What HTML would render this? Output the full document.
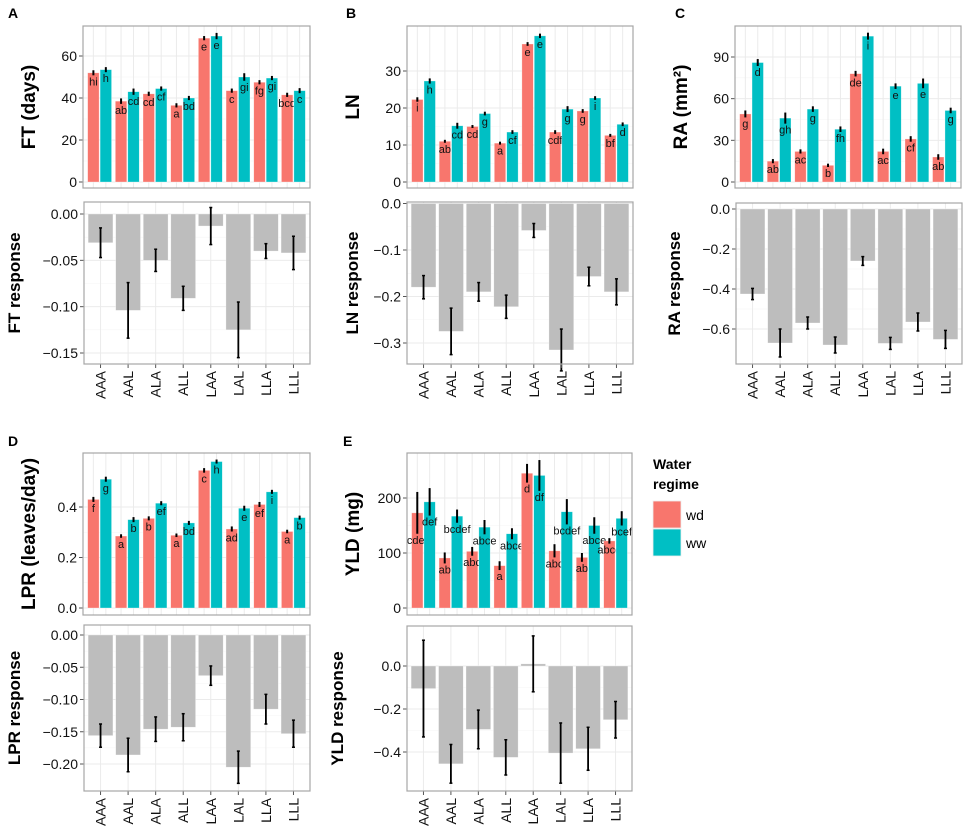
<!DOCTYPE html>
<html><head><meta charset="utf-8">
<style>
html,body{margin:0;padding:0;background:#fff;}
svg{display:block;font-family:"Liberation Sans",Arial,sans-serif;}
</style></head>
<body>
<svg id="chart" width="964" height="837" viewBox="0 0 964 837"></svg>
<script>
const cats = ["AAA","AAL","ALA","ALL","LAA","LAL","LLA","LLL"];
// Panel A: FT (days)
const aWd = [52,38.5,42,36.5,68.5,43.5,47.5,41.5];
const aWw = [53.5,43,44.5,40,69.5,50,49.5,43.5];
const aWdErr = [1.2,1.3,1,1,1,1,1,1];
const aWwErr = [1.2,1.5,1,1,1.5,1.8,1,1.2];
const aLetters = ["hi","h","ab","cd","cd","cf","a","bd","e","e","c","gi","fg","gi","bcd","c"];
const aResp = [-0.031,-0.104,-0.05,-0.091,-0.013,-0.125,-0.04,-0.042];
const aRespErr = [0.016,0.03,0.012,0.013,0.02,0.03,0.008,0.018];
// Panel B: LN
const bWd = [22.3,11,15,10.5,37.3,13.5,19.2,12.6];
const bWw = [27.3,15.2,18.5,13.5,39.5,19.7,22.7,15.6];
const bWdErr = [0.6,0.4,0.4,0.4,0.5,0.5,0.5,0.4];
const bWwErr = [0.7,0.8,0.5,0.5,0.6,0.8,0.5,0.5];
const bLetters = ["i","h","ab","cd","cd","g","a","cf","e","e","cdf","g","g","i","bf","d"];
const bResp = [-0.18,-0.275,-0.19,-0.222,-0.058,-0.315,-0.157,-0.19];
const bRespErr = [0.025,0.05,0.02,0.025,0.015,0.045,0.02,0.028];
// Panel C: RA
const cWd = [49,15,22,12,78,22,31,18];
const cWw = [86,46,52.5,38,105,69,71,51.5];
const cWdErr = [2.5,1.5,1.5,1.2,2,2,2,2];
const cWwErr = [2.5,4,2,2,2.5,2,3.5,2];
const cLetters = ["g","d","ab","gh","ac","g","b","fh","de","i","ac","e","cf","e","ab","g"];
const cResp = [-0.425,-0.67,-0.57,-0.68,-0.26,-0.672,-0.565,-0.652];
const cRespErr = [0.028,0.07,0.03,0.04,0.022,0.03,0.045,0.045];
// Panel D: LPR
const dWd = [0.43,0.285,0.355,0.288,0.545,0.313,0.41,0.303];
const dWw = [0.51,0.35,0.415,0.337,0.58,0.395,0.46,0.358];
const dWdErr = [0.01,0.007,0.008,0.007,0.009,0.01,0.01,0.007];
const dWwErr = [0.01,0.01,0.008,0.008,0.008,0.01,0.008,0.008];
const dLetters = ["f","g","a","b","b","ef","a","bd","c","h","ad","e","ef","i","a","b"];
const dResp = [-0.156,-0.186,-0.146,-0.143,-0.063,-0.205,-0.115,-0.153];
const dRespErr = [0.018,0.026,0.019,0.021,0.015,0.025,0.023,0.021];
// Panel E: YLD
const eWd = [173,91,103,77,245,104,92,122];
const eWw = [193,167,147,135,241,175,150,163];
const eWdErr = [38,10,8,8,17,12,8,5];
const eWwErr = [25,12,13,10,28,23,15,13];
const eLetters = ["cdef","def","ab","bcdef","abc","abce","a","abce","d","df","abc","bcdef","ab","abce","abce","bcef"];
const eResp = [-0.105,-0.455,-0.295,-0.425,0.01,-0.405,-0.385,-0.25];
const eRespErr = [0.225,0.09,0.09,0.082,0.13,0.14,0.1,0.085];
// tick values
const aTopTicks=[0,20,40,60], bTopTicks=[0,10,20,30], cTopTicks=[0,30,60,90], dTopTicks=[0,0.2,0.4], eTopTicks=[0,100,200];
const aBotTicks=[0,-0.05,-0.1,-0.15], bBotTicks=[0,-0.1,-0.2,-0.3], cBotTicks=[0,-0.2,-0.4,-0.6], dBotTicks=[0,-0.05,-0.1,-0.15,-0.2], eBotTicks=[0,-0.2,-0.4];

const NS="http://www.w3.org/2000/svg";
const svg=document.getElementById('chart');
function mk(tag,attrs,parent,text){const e=document.createElementNS(NS,tag);for(const k in attrs)e.setAttribute(k,attrs[k]);if(text!==undefined)e.textContent=text;(parent||svg).appendChild(e);return e;}
const WD="#F8766D", WW="#00BFC4";
function fmtTick(v,dec){let s=Math.abs(v).toFixed(dec);return (v<0?"\u2212":"")+s;}

function panelFrame(g,x0,x1,y0,y1,yScale,ticks,dec){
  for(let i=0;i<ticks.length-1;i++){
    const ym=yScale((ticks[i]+ticks[i+1])/2);
    const l=mk('line',{x1:x0,x2:x1,y1:ym,y2:ym,stroke:'#f5f5f5','stroke-width':0.6},g);
    
    
  }
  ticks.forEach(t=>{
    const y=yScale(t);
    const l=mk('line',{x1:x0,x2:x1,y1:y,y2:y,stroke:'#ebebeb','stroke-width':1},g);
    
    
    const tk=mk('line',{x1:x0-4,x2:x0,y1:y,y2:y,stroke:'#555','stroke-width':1},g);
    
    
    const tl=mk('text',{x:x0-6,y:y+5,'text-anchor':'end','font-size':14,fill:'#111'},g,fmtTick(t,dec));
    
    
  });
}
function border(g,x0,x1,y0,y1){
  const r=mk('rect',{x:x0,y:y0,width:x1-x0,height:y1-y0,fill:'none',stroke:'#a6a6a6','stroke-width':1.2},g);
  
  
}

function topPanel(id,x0,x1,y0,y1,zeroY,unitPx,wd,ww,wdErr,wwErr,letters,ticks,dec,title){
  const g=mk('g',{});
  
  
  const yS=v=>zeroY-v*unitPx;
  const unit=(x1-x0)/8.2;
  const cx=i=>x0+(i+0.6)*unit;
  const bw=unit*0.45;
  panelFrame(g,x0,x1,y0,y1,yS,ticks,dec);
  for(let i=0;i<8;i++){[cx(i)-bw/2,cx(i)+bw/2].forEach(x=>{
    const l=mk('line',{x1:x,x2:x,y1:y0,y2:y1,stroke:'#ebebeb','stroke-width':1},g);
    
    });}
  for(let i=0;i<8;i++){
    [[wd,wdErr,WD,-1,'wd'],[ww,wwErr,WW,0,'ww']].forEach(([vals,errs,col,off,nm],k)=>{
      const v=vals[i], e=errs[i];
      const bx=cx(i)+off*bw;
      const r=mk('rect',{x:bx+0.5,y:yS(v),width:bw-1,height:yS(0)-yS(v),fill:col,stroke:'rgba(255,255,255,0.5)','stroke-width':0.6},g);
      
      
      const el=mk('line',{x1:bx+bw/2,x2:bx+bw/2,y1:yS(v+e),y2:yS(v-e),stroke:'#000','stroke-width':2},g);
      
      
      const t=mk('text',{x:bx+bw/2,y:yS(v-e)+10,'text-anchor':'middle','font-size':11,fill:'#111'},g,letters[i*2+k]);
      
      
    });
  }
  border(g,x0,x1,y0,y1);
  const my=(y0+y1)/2;
  const tt=mk('text',{x:0,y:0,transform:`translate(${x0-48},${my}) rotate(-90)`,'text-anchor':'middle','font-size':19,'font-weight':'bold',fill:'#000'},g,title);
  
  
}

function botPanel(id,x0,x1,y0,y1,zeroY,unitPx,resp,err,ticks,dec,title,titleX){
  const g=mk('g',{});
  
  
  const yS=v=>zeroY-v*unitPx;
  const unit=(x1-x0)/8.2;
  const cx=i=>x0+(i+0.6)*unit;
  const bw=unit*0.9;
  panelFrame(g,x0,x1,y0,y1,yS,ticks,dec);
  for(let i=0;i<8;i++){
    const l=mk('line',{x1:cx(i),x2:cx(i),y1:y0,y2:y1,stroke:'#ebebeb','stroke-width':1},g);
    
    
  }
  for(let i=0;i<8;i++){
    const v=resp[i], e=err[i];
    const top=Math.min(yS(v),yS(0)), h=Math.max(Math.abs(yS(v)-yS(0)),1.5);
    const r=mk('rect',{x:cx(i)-bw/2,y:top,width:bw,height:h,fill:'#bdbdbd',stroke:'rgba(255,255,255,0.5)','stroke-width':0.6},g);
    
    
    const el=mk('line',{x1:cx(i),x2:cx(i),y1:yS(v+e),y2:yS(v-e),stroke:'#000','stroke-width':1.8},g);
    
    
    [v+e,v-e].forEach(c=>{const cap=mk('line',{x1:cx(i)-1.5,x2:cx(i)+1.5,y1:yS(c),y2:yS(c),stroke:'#000','stroke-width':1.5},g);
      
      });
    const tk=mk('line',{x1:cx(i),x2:cx(i),y1:y1,y2:y1+4,stroke:'#555','stroke-width':1},g);
    
    
    const tl=mk('text',{x:0,y:0,transform:`translate(${cx(i)+5},${y1+7}) rotate(-90)`,'text-anchor':'end','font-size':14,fill:'#111'},g,cats[i]);
    
    
  }
  border(g,x0,x1,y0,y1);
  const my=(y0+y1)/2;
  const tt=mk('text',{x:0,y:0,transform:`translate(${titleX},${my}) rotate(-90)`,'text-anchor':'middle','font-size':17,'font-weight':'bold',fill:'#000'},g,title);
  
  
}

topPanel('a',83,310,26,188,182,2.1,aWd,aWw,aWdErr,aWwErr,aLetters,aTopTicks,0,'FT (days)');
topPanel('b',407,633,26,188,182,3.7,bWd,bWw,bWdErr,bWwErr,bLetters,bTopTicks,0,'LN');
topPanel('c',735,961,26,188,182,1.389,cWd,cWw,cWdErr,cWwErr,cLetters,cTopTicks,0,'RA (mm\u00B2)');
topPanel('d',83,310,453,615,608,252.5,dWd,dWw,dWdErr,dWwErr,dLetters,dTopTicks,1,'LPR (leaves/day)');
topPanel('e',407,632,453,615,608,0.55,eWd,eWw,eWdErr,eWwErr,eLetters,eTopTicks,0,'YLD (mg)');

botPanel('a',84,310,202,364,214,926.7,aResp,aRespErr,aBotTicks,2,'FT response',20);
botPanel('b',407,633,202,364,203.5,465,bResp,bRespErr,bBotTicks,1,'LN response',358);
botPanel('c',736,962,203,364,209,200,cResp,cRespErr,cBotTicks,1,'RA response',680);
botPanel('d',84,310,625,791,635,645,dResp,dRespErr,dBotTicks,2,'LPR response',20);
botPanel('e',407,632,626,791,666,215,eResp,eRespErr,eBotTicks,1,'YLD response',343);

[['A',8,18],['B',346,18],['C',675,18],['D',8,446],['E',343,446]].forEach(([t,x,y])=>{
  const e=mk('text',{x:x,y:y,'font-size':14,'font-weight':'bold',fill:'#000'},svg,t);
  
  
});
const lg=mk('g',{});


const lt1=mk('text',{x:653,y:469,'font-size':14,'font-weight':'bold'},lg,'Water');


const lt2=mk('text',{x:653,y:489,'font-size':14,'font-weight':'bold'},lg,'regime');


[['wd',WD,501],['ww',WW,529]].forEach(([n,c,y])=>{
  const r=mk('rect',{x:653,y:y,width:28,height:27,fill:c,stroke:'#eee','stroke-width':0.8},lg);
  
  
  const t=mk('text',{x:686,y:y+19,'font-size':14},lg,n);
  
  
});
</script>
</body></html>
